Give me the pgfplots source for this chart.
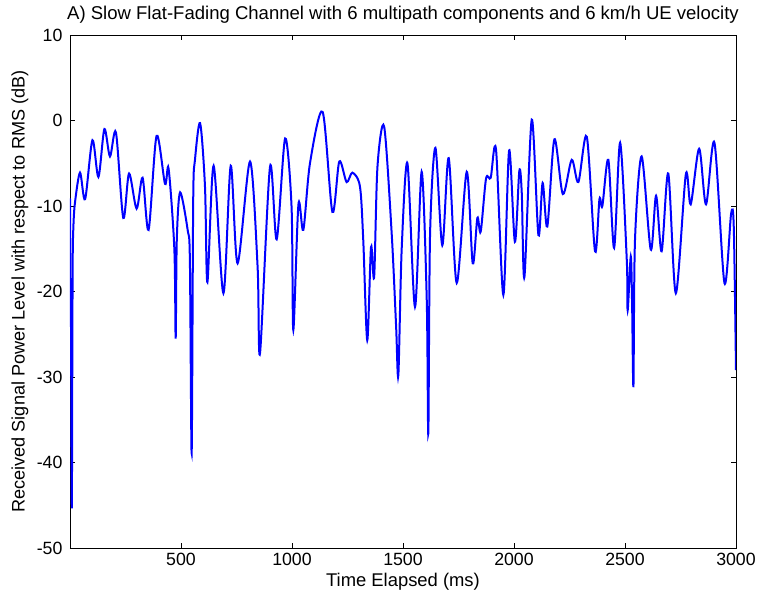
\documentclass[border=0pt]{standalone}
\usepackage{pgfplots}
\pgfplotsset{compat=1.18}
\usepackage{fontspec}
\setmainfont{Liberation Sans}
\begin{document}
\fontsize{13.5}{16}\selectfont
\begin{tikzpicture}
\useasboundingbox (-52.5pt,-34.5pt) rectangle (515.25pt,411pt);
\begin{axis}[
  scale only axis,
  width=499.5pt, height=384.75pt,
  xmin=0, xmax=3000, ymin=-50, ymax=10,
  xtick={500,1000,1500,2000,2500,3000},
  ytick={-50,-40,-30,-20,-10,0,10},
  tick align=inside,
  major tick length=4pt,
  tick style={black, line width=0.4pt},
  axis line style={black, line width=0.5pt},
  /pgf/number format/assume math mode=true,
  /pgf/number format/1000 sep={},
  tick label style={font=\fontsize{13.3}{16}\selectfont},
  xticklabel style={yshift=1pt},
  yticklabel style={xshift=-1pt},
  xlabel={Time Elapsed (ms)},
  ylabel={Received Signal Power Level with respect to RMS (dB)},
  title={A) Slow Flat-Fading Channel with 6 multipath components and 6 km/h UE velocity},
  title style={font=\fontsize{13.9}{16.7}\selectfont, at={(axis description cs:0.5,1.024)}, anchor=center},
  xlabel style={font=\fontsize{13.8}{16.5}\selectfont, at={(axis description cs:0.5,-0.066)}, anchor=center},
  ylabel style={font=\fontsize{13.6}{16.3}\selectfont, at={(axis description cs:-0.075,0.5)}, anchor=center},
  clip=true,
]
\addplot[color={rgb,255:red,0;green,0;blue,255}, line width=1.5pt, smooth, tension=0.5] coordinates {
(0,-9.1) (2,-24) (4,-19) (8,-45.2) (10,-31) (12,-16.7) (15,-12.6) (22,-9.7)
(45,-6.1) (68,-9.2) (101,-2.3) (128,-6.6) (155,-1.0) (180,-4.2) (207,-1.4)
(240,-11.4) (266,-6.2) (300,-10.3) (327,-6.7) (354,-12.8) (390,-1.8) (428,-7.4)
(444,-5.6) (470,-15) (476,-25.5) (481,-14) (496,-8.4) (530,-12.8) (540,-16.3)
(548,-38.9) (555,-9.3) (563,-4.6) (586,-0.3) (608,-7.7) (619,-18.9) (647,-5.3)
(691,-20.2) (724,-5.3) (755,-16.7) (811,-4.8) (845,-17.1) (856,-27.2) (901,-5.4)
(931,-13.9) (969,-2.1) (998,-10.1) (1006,-24.5) (1029,-9.8) (1051,-12.8)
(1081,-5.0) (1138,1.0) (1182,-10.7) (1213,-4.8) (1246,-7.2) (1272,-6.1)
(1306,-7.7) (1321,-14) (1339,-25.7) (1356,-14.8) (1370,-18.3) (1385,-5.4)
(1415,-0.7) (1449,-13.2) (1469,-24.1) (1479,-29.8) (1494,-15.1) (1520,-5.0)
(1554,-21.8) (1584,-6.0) (1607,-21) (1614,-36.6) (1622,-13.2) (1646,-3.2)
(1677,-14.6) (1706,-4.4) (1742,-19.0) (1787,-6.0) (1814,-16.7) (1835,-11.4)
(1850,-13.0) (1874,-6.8) (1895,-6.7) (1919,-3.4) (1952,-20.4) (1978,-3.5)
(2004,-14.2) (2024,-5.9) (2035,-8.5) (2047,-18.3) (2080,0.1) (2110,-13.4)
(2129,-7.3) (2150,-12.4) (2182,-2.2) (2220,-8.6) (2260,-4.6) (2290,-7.2)
(2328,-1.9) (2365,-15.3) (2385,-9.2) (2398,-10) (2425,-4.6) (2451,-14.9)
(2478,-2.6) (2508,-16.3) (2512,-22.2) (2526,-15.9) (2532,-21.5) (2538,-31.1)
(2545,-14) (2575,-4.2) (2616,-15.1) (2640,-8.8) (2665,-15.3) (2695,-6.2)
(2729,-20.2) (2774,-6.3) (2796,-9.8) (2834,-3.3) (2865,-9.8) (2903,-2.6)
(2948,-19.0) (2978,-10.9) (2990,-12.5) (3000,-29.2)
};
\end{axis}
\end{tikzpicture}
\end{document}
